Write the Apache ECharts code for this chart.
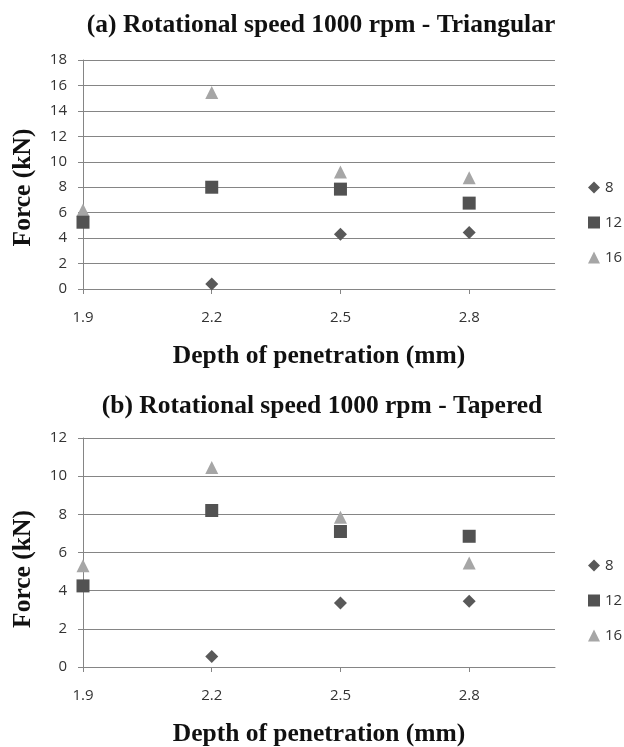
<!DOCTYPE html>
<html>
<head>
<meta charset="utf-8">
<script src="https://cdn.jsdelivr.net/npm/echarts@6/dist/echarts.min.js"></script>
<style>
html, body { margin: 0; padding: 0; background: #fff; }
#grafico { width: 624px; height: 747px; }
</style>
</head>
<body>
<div id="grafico"></div>
<script>
// profundidad de penetracion (mm)
var depths = [1.9, 2.2, 2.5, 2.8];
var feedNames = ['8', '12', '16'];

// (a) pin triangular
var triangular8 = [null, 0.4, 4.3, 4.45];
var triangular12 = [5.25, 8.0, 7.85, 6.75];
var triangular16 = [6.2, 15.45, 9.2, 8.75];

// (b) pin tapered
var tapered8 = [null, 0.55, 3.35, 3.45];
var tapered12 = [4.25, 8.2, 7.1, 6.85];
var tapered16 = [5.3, 10.45, 7.85, 5.45];

var yMaxA = 18;
var yMaxB = 12;
var yStep = 2;

var titleA = '(a) Rotational speed 1000 rpm - Triangular';
var titleB = '(b) Rotational speed 1000 rpm - Tapered';
var xName = 'Depth of penetration (mm)';
var yName = 'Force (kN)';

var simbolos = { '8': 'diamond', '12': 'rect', '16': 'triangle' };
var tamanos = { '8': 13, '12': 13, '16': 13 };
var colores = { '8': '#595959', '12': '#525252', '16': '#a6a6a6' };
var capas = { '8': 4, '12': 3, '16': 2 };

function pares(valores) {
    var data = [];
    for (var i = 0; i < depths.length; i++) {
        if (valores[i] !== null) data.push([depths[i], valores[i]]);
    }
    return data;
}

function serie(nombre, valores, idx) {
    return {
        name: nombre,
        type: 'scatter',
        xAxisIndex: idx,
        yAxisIndex: idx,
        symbol: simbolos[nombre],
        symbolSize: tamanos[nombre],
        z: capas[nombre],
        itemStyle: { color: colores[nombre], opacity: 1 },
        data: pares(valores)
    };
}

var tickFont = { fontFamily: 'Open Sans', fontSize: 15, color: '#333' };
var nameFont = { fontFamily: 'Liberation Serif', fontWeight: 'bold', color: '#111' };

function ejeX(idx, gap) {
    return {
        type: 'value',
        gridIndex: idx,
        min: 1.9,
        max: 3.0,
        name: xName,
        nameLocation: 'middle',
        nameGap: gap,
        nameTextStyle: Object.assign({ fontSize: 25.5 }, nameFont),
        axisLine: { show: true, lineStyle: { color: '#858585', width: 1 } },
        axisTick: { show: true, length: 5, customValues: depths, lineStyle: { color: '#858585' } },
        axisLabel: Object.assign({ margin: 21, customValues: depths, formatter: function (v) { return v.toFixed(1); } }, tickFont),
        splitLine: { show: false }
    };
}

function ejeY(idx, max, pad) {
    return {
        type: 'value',
        gridIndex: idx,
        min: 0,
        max: max,
        interval: yStep,
        name: yName,
        nameLocation: 'middle',
        nameGap: 47,
        nameTextStyle: Object.assign({ fontSize: 25.5, padding: [0, pad, 0, 0] }, nameFont),
        axisLine: { show: true, lineStyle: { color: '#858585', width: 1 } },
        axisTick: { show: true, length: 5, lineStyle: { color: '#858585' } },
        axisLabel: Object.assign({ margin: 16 }, tickFont),
        splitLine: { show: true, lineStyle: { color: '#858585', width: 1 } }
    };
}

function leyenda(top) {
    return {
        orient: 'vertical',
        left: 583,
        top: top,
        data: feedNames,
        itemWidth: 12,
        itemHeight: 12,
        itemGap: 20,
        itemTextGap: 3,
        selectedMode: false,
        textStyle: { fontFamily: 'Open Sans', fontSize: 15, color: '#333' }
    };
}

var myChart = echarts.init(document.getElementById('grafico'));

var option = {
    backgroundColor: '#fff',
    animation: false,
    title: [
        { text: titleA, left: 316, top: 7, textAlign: 'center', textStyle: Object.assign({ fontSize: 25.5 }, nameFont) },
        { text: titleB, left: 317, top: 388, textAlign: 'center', textStyle: Object.assign({ fontSize: 25.5 }, nameFont) }
    ],
    legend: [leyenda(175), leyenda(553)],
    grid: [
        { left: 83, right: 69, top: 60, height: 229, outerBoundsMode: 'none' },
        { left: 83, right: 69, top: 438, height: 229, outerBoundsMode: 'none' }
    ],
    xAxis: [ejeX(0, 54), ejeX(1, 54)],
    yAxis: [ejeY(0, yMaxA, 26), ejeY(1, yMaxB, 33)],
    series: [
        serie('8', triangular8, 0),
        serie('12', triangular12, 0),
        serie('16', triangular16, 0),
        serie('8', tapered8, 1),
        serie('12', tapered12, 1),
        serie('16', tapered16, 1)
    ]
};

myChart.setOption(option, true);
</script>
</body>
</html>
